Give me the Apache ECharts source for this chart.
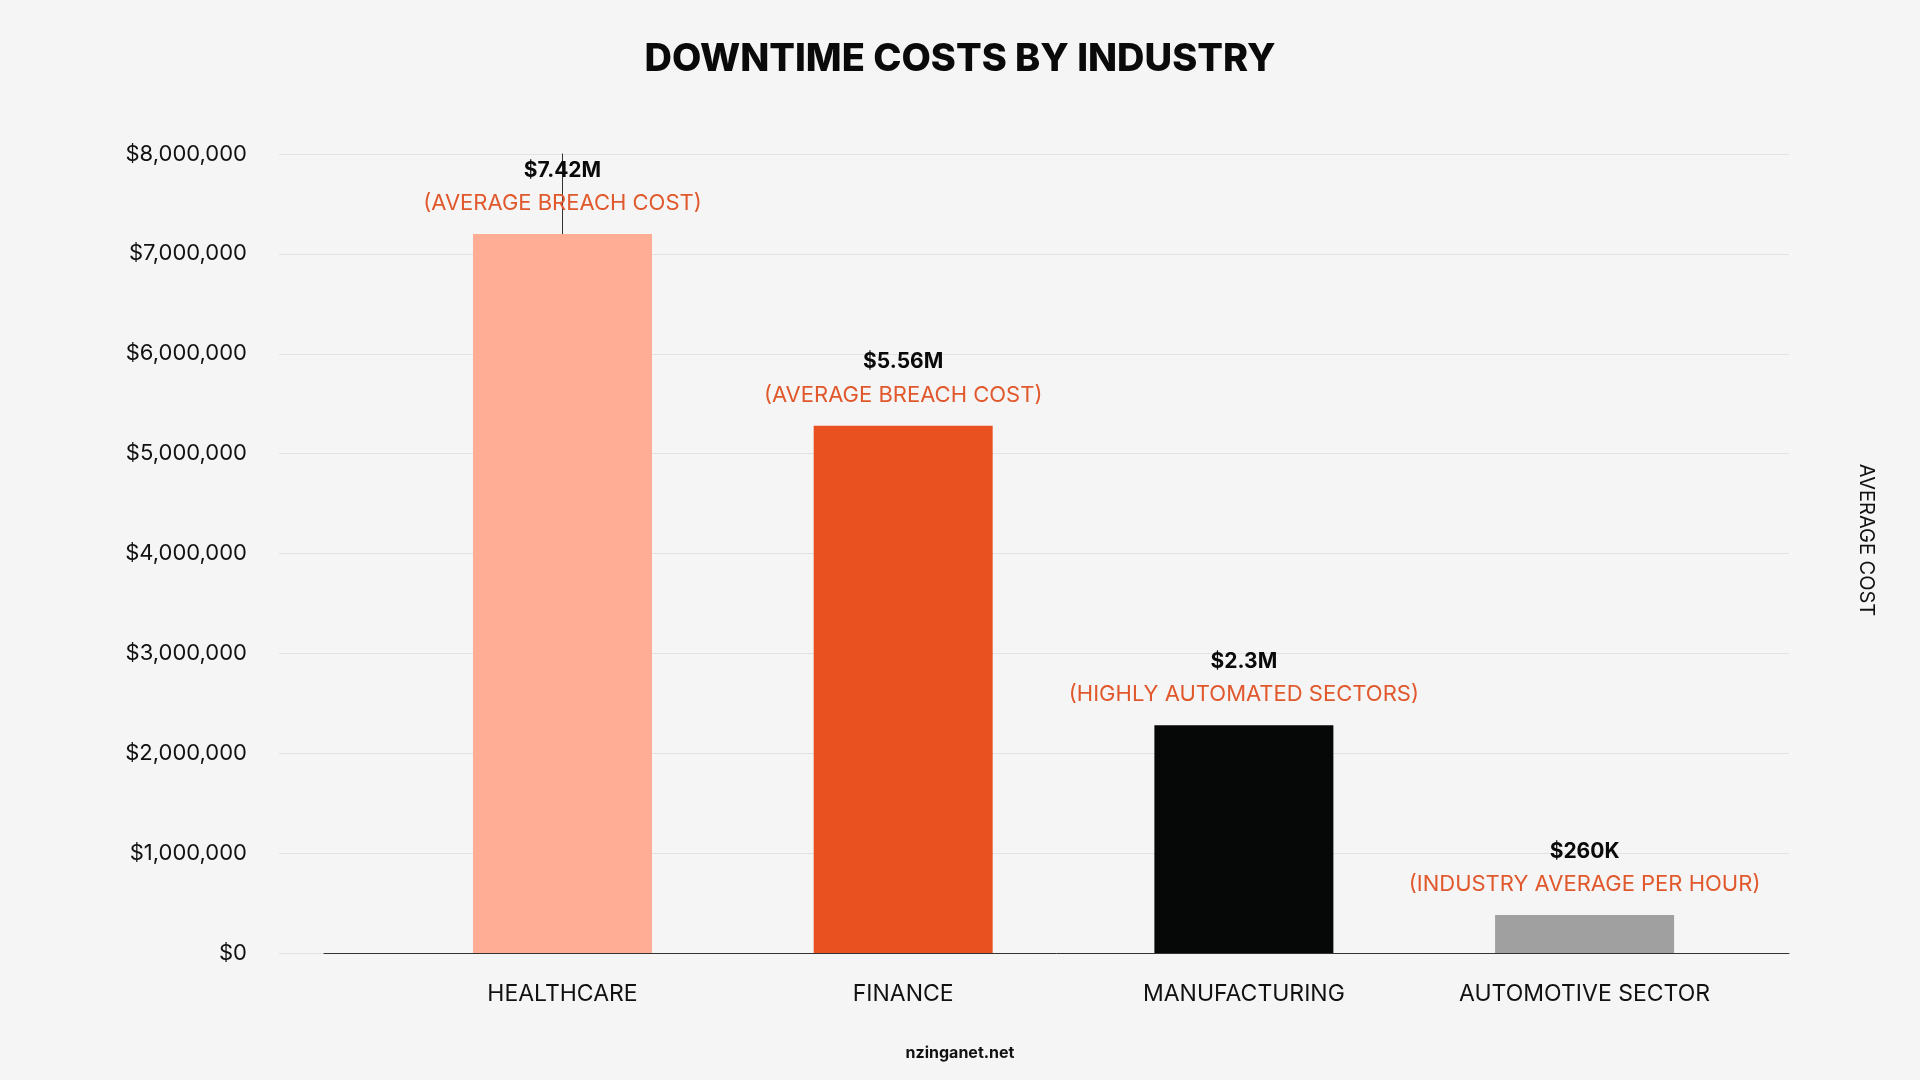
<!DOCTYPE html>
<html>
<head>
<meta charset="utf-8">
<script src="https://cdn.jsdelivr.net/npm/echarts@6/dist/echarts.min.js"></script>
<style>html,body{margin:0;padding:0;background:#f5f5f5}#chart{width:1920px;height:1080px}</style>
</head>
<body>
<div id="chart"></div>
<script>
// 行业类别
const categories = ['HEALTHCARE', 'FINANCE', 'MANUFACTURING', 'AUTOMOTIVE SECTOR'];
// 柱高
const barValues = [7200000, 5280000, 2280000, 380000];
// 柱上文字
const valueLabels = ['$7.42M', '$5.56M', '$2.3M', '$260K'];
const noteLabels = ['(AVERAGE BREACH COST)', '(AVERAGE BREACH COST)', '(HIGHLY AUTOMATED SECTORS)', '(INDUSTRY AVERAGE PER HOUR)'];
const barColors = ['#ffad94', '#e95220', '#060808', '#a0a0a0'];
const yTicks = [0, 1000000, 2000000, 3000000, 4000000, 5000000, 6000000, 7000000, 8000000];

const font = 'Inter, "Noto Sans", sans-serif';
const chart = echarts.init(document.getElementById('chart'));

const option = {
  backgroundColor: '#f5f5f5',
  textStyle: { fontFamily: font },
  title: {
    text: 'DOWNTIME COSTS BY INDUSTRY',
    left: 'center', top: 36,
    textStyle: { fontSize: 38, fontWeight: 800, color: '#0a0a0a', fontFamily: font }
  },
  graphic: [
    { type: 'text', left: 'center', top: 1045,
      style: { text: 'nzinganet.net', font: '700 16px ' + font, fill: '#111' } },
    { type: 'text', x: 1866, y: 540, rotation: -Math.PI / 2,
      style: { text: 'AVERAGE COST', font: '20px ' + font, fill: '#111', align: 'center', verticalAlign: 'middle' } }
  ],
  // 两个网格：一个画网格线和刻度，一个画柱子
  grid: [
    { left: 279, right: 131, top: 154, bottom: 127 },
    { left: 324, right: 131, top: 154, bottom: 127 }
  ],
  xAxis: [
    { gridIndex: 0, type: 'value', show: false, min: 0, max: 1 },
    {
      gridIndex: 1, type: 'value', min: -0.7, max: 3.6,
      splitLine: { show: false },
      axisLine: { show: true, onZero: false, lineStyle: { color: '#333', width: 1 } },
      axisTick: { show: false },
      axisLabel: {
        customValues: [0, 1, 2, 3],
        formatter: v => categories[Math.round(v)] || '',
        fontSize: 23, color: '#111', margin: 30, fontFamily: font
      }
    }
  ],
  yAxis: [
    {
      gridIndex: 0, type: 'value', min: 0, max: 8000000, interval: 1000000,
      axisLine: { show: false }, axisTick: { show: false },
      splitLine: { lineStyle: { color: '#e2e2e2', width: 1 } },
      axisLabel: {
        margin: 32, fontSize: 22, color: '#111', fontFamily: font,
        formatter: v => '$' + v.toLocaleString('en-US')
      }
    },
    {
      gridIndex: 1, type: 'value', min: 0, max: 8000000, interval: 1000000,
      axisLine: { show: true, lineStyle: { color: '#333', width: 1 } },
      axisTick: { show: false }, axisLabel: { show: false },
      splitLine: { show: false }
    }
  ],
  series: [{
    type: 'bar',
    xAxisIndex: 1, yAxisIndex: 1,
    barWidth: 179,
    data: barValues.map((v, i) => ({ value: [i, v], itemStyle: { color: barColors[i] } })),
    label: {
      show: true, position: 'top', distance: 14,
      formatter: p => '{a|' + valueLabels[p.dataIndex] + '}\n{b|' + noteLabels[p.dataIndex] + '}',
      rich: {
        a: { fontSize: 21, fontWeight: 700, color: '#0a0a0a', lineHeight: 33, fontFamily: font },
        b: { fontSize: 22, color: '#e0582c', lineHeight: 33, fontFamily: font }
      }
    }
  }]
};
chart.setOption(option);
</script>
</body>
</html>
